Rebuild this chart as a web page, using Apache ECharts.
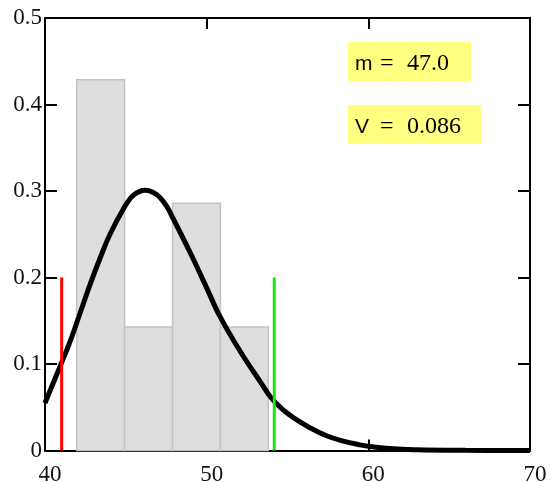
<!DOCTYPE html>
<html>
<head>
<meta charset="utf-8">
<script src="https://cdn.jsdelivr.net/npm/echarts@6/dist/echarts.min.js"></script>
<style>
  html, body { margin: 0; padding: 0; background: #fff; }
  #chart { width: 551px; height: 482px; }
</style>
</head>
<body>
<div id="chart"></div>
<script>
// Histogram of relative frequencies (bin edges and heights)
const binEdges = [41.96, 44.92, 47.89, 50.85, 53.81];
const relFreq = [0.4286, 0.1429, 0.2857, 0.1429];

// Fitted density curve, sampled along x
const curveX = [40.0, 40.97, 41.59, 42.21, 42.83, 43.44, 44.02, 44.84, 45.46, 46.2, 46.9, 47.5, 47.93, 49.0, 50.0, 50.82, 52.06, 53.3, 54.12, 55.36, 57.42, 59.48, 61.54, 63.0, 66.0, 70.0];
const curveY = [0.055, 0.099, 0.128, 0.161, 0.194, 0.224, 0.250, 0.279, 0.295, 0.301, 0.296, 0.283, 0.268, 0.228, 0.188, 0.155, 0.115, 0.080, 0.058, 0.038, 0.017, 0.0065, 0.002, 0.0008, 0.0002, 0.0];

// Vertical bound markers
const lowerBound = 41.03;
const upperBound = 54.18;
const boundHeight = 0.2;

// Axis ticks
const xTicks = [40, 50, 60, 70];
const yTicks = [0, 0.1, 0.2, 0.3, 0.4, 0.5];

// Summary statistics
const meanValue = '47.0';
const variationValue = '0.086';

const serif = '"Liberation Serif", "Times New Roman", serif';
const sans = '"Liberation Sans", Arial, sans-serif';

const bins = relFreq.map((h, i) => [binEdges[i], binEdges[i + 1], h]);
const curve = curveX.map((x, i) => [x, curveY[i]]);

const frameLine = { show: true, onZero: false, lineStyle: { color: '#000', width: 2 } };
const innerTick = { show: true, inside: true, length: 11, lineStyle: { color: '#000', width: 2 } };

// A "name = value" annotation on a yellow box: sans-serif symbol, serif value
function statBox(top, width, symbol, value) {
  return {
    type: 'group', left: 348, top: top,
    children: [
      { type: 'rect', shape: { x: 0, y: 0, width: width, height: 39 }, style: { fill: '#ffff80' } },
      { type: 'text', x: 7, y: 22,
        style: { text: symbol, font: '21px ' + sans, fill: '#000', verticalAlign: 'middle' } },
      { type: 'text', x: 32, y: 22,
        style: { text: '=', font: '24px ' + serif, fill: '#000', verticalAlign: 'middle' } },
      { type: 'text', x: 59, y: 22,
        style: { text: value, font: '24px ' + serif, fill: '#000', verticalAlign: 'middle' } }
    ]
  };
}

const chart = echarts.init(document.getElementById('chart'), null, { renderer: 'canvas' });

chart.setOption({
  backgroundColor: '#fff',
  animation: false,
  grid: { left: 45, right: 21, top: 18, bottom: 31.5, containLabel: false, outerBoundsMode: 'none' },
  xAxis: [
    {
      type: 'value', position: 'bottom',
      min: xTicks[0], max: xTicks[xTicks.length - 1], interval: 10,
      axisLine: frameLine, axisTick: innerTick, splitLine: { show: false },
      axisLabel: { color: '#111', fontFamily: serif, fontSize: 23, margin: 13,
                   padding: [0, 0, 0, 10], formatter: v => String(v) }
    },
    {
      type: 'value', position: 'top',
      min: xTicks[0], max: xTicks[xTicks.length - 1], interval: 10,
      axisLine: frameLine, axisTick: innerTick, splitLine: { show: false },
      axisLabel: { show: false }
    }
  ],
  yAxis: [
    {
      type: 'value', position: 'left',
      min: yTicks[0], max: yTicks[yTicks.length - 1], interval: 0.1,
      axisLine: frameLine, axisTick: { ...innerTick, length: 12 }, splitLine: { show: false },
      axisLabel: { color: '#111', fontFamily: serif, fontSize: 23, margin: 3,
                   formatter: v => (v === 0 ? '0' : v.toFixed(1)) }
    },
    {
      type: 'value', position: 'right',
      min: yTicks[0], max: yTicks[yTicks.length - 1], interval: 0.1,
      axisLine: frameLine, axisTick: { ...innerTick, length: 12 }, splitLine: { show: false },
      axisLabel: { show: false }
    }
  ],
  series: [
    {
      type: 'custom',
      name: 'histogram',
      xAxisIndex: 0, yAxisIndex: 0,
      data: bins,
      encode: { x: [0, 1], y: 2 },
      z: 2,
      renderItem: function (params, api) {
        const p0 = api.coord([api.value(0), api.value(2)]);
        const p1 = api.coord([api.value(1), 0]);
        return {
          type: 'rect',
          shape: { x: p0[0], y: p0[1], width: p1[0] - p0[0], height: p1[1] - p0[1] },
          style: { fill: '#dedede', stroke: '#c3c3c3', lineWidth: 1.5 }
        };
      }
    },
    {
      type: 'line',
      name: 'density',
      data: curve,
      smooth: 0.4,
      showSymbol: false,
      symbol: 'none',
      z: 3,
      lineStyle: { color: '#000', width: 5 }
    },
    {
      type: 'line',
      name: 'lower',
      data: [[lowerBound, 0], [lowerBound, boundHeight]],
      symbol: 'none',
      z: 4,
      lineStyle: { color: '#ff0000', width: 3 }
    },
    {
      type: 'line',
      name: 'upper',
      data: [[upperBound, 0], [upperBound, boundHeight]],
      symbol: 'none',
      z: 4,
      lineStyle: { color: '#19e619', width: 3 }
    }
  ],
  graphic: [
    statBox(42, 123, 'm', meanValue),
    statBox(105, 133, 'V', variationValue)
  ]
});
</script>
</body>
</html>
